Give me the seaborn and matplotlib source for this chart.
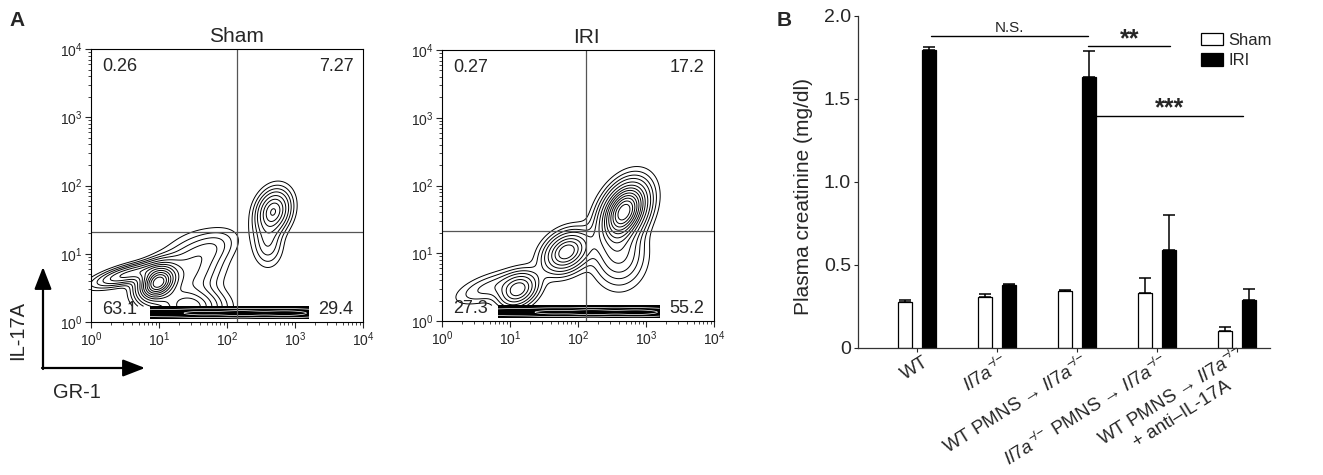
import numpy as np
import pandas as pd
import matplotlib
matplotlib.use("Agg")
import matplotlib.pyplot as plt
import matplotlib.transforms as mtransforms
import seaborn as sns
from matplotlib.patches import FancyArrowPatch

sns.set_theme(style="ticks")
plt.rcParams["font.family"] = ["Liberation Sans", "DejaVu Sans"]
plt.rcParams["mathtext.fontset"] = "custom"
plt.rcParams["mathtext.rm"] = "Liberation Sans"
plt.rcParams["mathtext.it"] = "Liberation Sans:italic"
plt.rcParams["mathtext.bf"] = "Liberation Sans:bold"

#  PANEL A DATA (flow cytometry, log10 coordinates of the density peaks)
sham_quad = ["0.26", "7.27", "63.1", "29.4"]   # UL, UR, LL, LR
iri_quad  = ["0.27", "17.2", "27.3", "55.2"]
sham_gate = (138, 21)
iri_gate  = (131, 21.5)

sham_cx  = [0.98, 0.55, 1.45, 1.80, 2.68, 2.60, 1.45]
sham_cy  = [0.58, 0.70, 0.75, 1.10, 1.62, 1.15, 0.22]
sham_sx  = [0.17, 0.30, 0.28, 0.22, 0.15, 0.13, 0.28]
sham_sy  = [0.16, 0.11, 0.28, 0.16, 0.19, 0.20, 0.16]
sham_rho = [0.30, 0.70, 0.30, 0.40, 0.20, 0.00, 0.00]
sham_w   = [1.00, 0.35, 0.25, 0.10, 0.50, 0.15, 0.45]
sham_band = (0.86, 3.21)

iri_cx  = [1.12, 1.83, 2.68, 2.60, 0.70]
iri_cy  = [0.46, 1.02, 1.62, 1.00, 0.50]
iri_sx  = [0.17, 0.20, 0.20, 0.22, 0.30]
iri_sy  = [0.15, 0.18, 0.25, 0.28, 0.15]
iri_rho = [0.30, 0.30, 0.35, 0.00, 0.60]
iri_w   = [0.45, 0.55, 1.00, 0.25, 0.12]
iri_band = (0.82, 3.20)

band_px = [1.0, 1.6, 2.2, 2.8, 3.1]
band_pw = [0.3, 0.6, 0.8, 0.6, 0.3]

contour_levels = [0.03, 0.06, 0.1, 0.15, 0.22, 0.3, 0.38, 0.46,
                  0.55, 0.64, 0.73, 0.82, 0.91]

#  PANEL B DATA (plasma creatinine)
groups = ["WT", "Il7a", "WT PMNS>Il7a", "Il7a PMNS>Il7a", "WT PMNS>Il7a+anti"]
conditions = ["Sham", "IRI"]
sham_mean = [0.28, 0.31, 0.345, 0.33, 0.10]
sham_err  = [0.01, 0.018, 0.006, 0.092, 0.028]
iri_mean  = [1.795, 0.38, 1.635, 0.588, 0.29]
iri_err   = [0.02, 0.008, 0.156, 0.214, 0.064]

ko = r"$\mathit{Il7a}^{-\!/\!-}$"
tick_labels = ["WT", ko, "WT PMNS \u2192 " + ko, ko + " PMNS \u2192 " + ko,
               "WT PMNS \u2192 " + ko + "\n+ anti\u2013IL-17A"]

sig_x0   = [0.17, 2.14, 2.24]
sig_x1   = [2.13, 3.16, 4.07]
sig_y    = [1.88, 1.82, 1.40]
sig_text = ["N.S.", "**", "***"]


def mixture(X, Y, cx, cy, sx, sy, rho, w):
    Z = np.zeros_like(X)
    for a, b, s, t, r, k in zip(cx, cy, sx, sy, rho, w):
        dx = (X - a) / s
        dy = (Y - b) / t
        Z += k * np.exp(-(dx**2 - 2 * r * dx * dy + dy**2) / (2 * (1 - r**2)))
    return Z / Z.max()


def flow_panel(ax, title, quad, gate, cx, cy, sx, sy, rho, w, band):
    gx = np.linspace(0, 4, 401)
    gy = np.linspace(0.23, 4, 378)
    X, Y = np.meshgrid(gx, gy)
    Z = mixture(X, Y, cx, cy, sx, sy, rho, w)
    ax.contour(10**X, 10**Y, Z, levels=contour_levels, colors="black",
               linewidths=0.7)

    # events piled on the lower edge
    bx = np.linspace(band[0], band[1], 300)
    by = np.linspace(0.04, 0.23, 60)
    BX, BY = np.meshgrid(bx, by)
    hx = np.ones_like(BX)
    for p, k in zip(band_px, band_pw):
        hx += k * np.exp(-((BX - p) / 0.25)**2 / 2)
    ZB = np.exp(-((BY - 0.13) / 0.055)**2 / 2) * hx
    ZB = ZB / ZB.max()
    ax.contourf(10**BX, 10**BY, ZB, levels=[0.0, 1.01], colors="black")
    ax.contour(10**BX, 10**BY, ZB, levels=[0.45, 0.8], colors="white",
               linewidths=0.5)

    ax.axvline(gate[0], color="#555555", lw=0.9)
    ax.axhline(gate[1], color="#555555", lw=0.9)

    ax.set_xscale("log")
    ax.set_yscale("log")
    ax.set_xlim(1, 1e4)
    ax.set_ylim(1, 1e4)
    for s in ax.spines.values():
        s.set_visible(True)
        s.set_linewidth(0.8)
        s.set_color("black")
    ax.tick_params(which="major", length=4, width=0.8, labelsize=10,
                   direction="out", pad=2)
    ax.tick_params(which="minor", length=2, width=0.6, direction="out")

    ax.text(0.04, 0.935, quad[0], transform=ax.transAxes, ha="left",
            va="center", fontsize=13)
    ax.text(0.965, 0.935, quad[1], transform=ax.transAxes, ha="right",
            va="center", fontsize=13)
    ax.text(0.04, 0.045, quad[2], transform=ax.transAxes, ha="left",
            va="center", fontsize=13)
    ax.text(0.965, 0.045, quad[3], transform=ax.transAxes, ha="right",
            va="center", fontsize=13)
    ax.text(gate[0], 1.01, title, transform=ax.get_xaxis_transform(),
            ha="center", va="bottom", fontsize=15)


fig = plt.figure(figsize=(13.23, 4.75), dpi=100)

ax1 = fig.add_axes([0.0688, 0.3221, 0.2056, 0.5747])
flow_panel(ax1, "Sham", sham_quad, sham_gate, sham_cx, sham_cy, sham_sx,
           sham_sy, sham_rho, sham_w, sham_band)
ax2 = fig.add_axes([0.3341, 0.3242, 0.2056, 0.5705])
flow_panel(ax2, "IRI", iri_quad, iri_gate, iri_cx, iri_cy, iri_sx,
           iri_sy, iri_rho, iri_w, iri_band)

# axis arrows
W, H = 1323, 475
arrow_kw = dict(arrowstyle="-|>,head_length=0.9,head_width=0.35",
                mutation_scale=15, color="black", lw=1.6,
                shrinkA=0, shrinkB=0, transform=fig.transFigure)
fig.add_artist(FancyArrowPatch((43 / W, 106 / H), (43 / W, 208 / H), **arrow_kw))
fig.add_artist(FancyArrowPatch((42 / W, 107 / H), (145 / W, 107 / H), **arrow_kw))
fig.text(18 / W, 145 / H, "IL-17A", rotation=90, ha="center", va="center",
         fontsize=14.5)
fig.text(77 / W, 82 / H, "GR-1", ha="center", va="center", fontsize=14.5)

fig.text(9 / W, 1 - 20 / H, "A", fontsize=15, fontweight="bold",
         ha="left", va="center")
fig.text(777 / W, 1 - 21 / H, "B", fontsize=15, fontweight="bold",
         ha="left", va="center")

#  PANEL B
df = pd.DataFrame({
    "group": groups * 2,
    "condition": ["Sham"] * len(groups) + ["IRI"] * len(groups),
    "value": sham_mean + iri_mean,
})
errs = {"Sham": sham_err, "IRI": iri_err}

ax3 = fig.add_axes([0.6485, 0.2674, 0.3114, 0.699])
sns.barplot(data=df, x="group", y="value", hue="condition", order=groups,
            hue_order=conditions, palette={"Sham": "white", "IRI": "black"},
            edgecolor="black", linewidth=0.9, errorbar=None, width=0.6,
            gap=0.4, ax=ax3)

for cont, cond in zip(ax3.containers, conditions):
    for bar, e in zip(cont, errs[cond]):
        xc = bar.get_x() + bar.get_width() / 2
        ax3.errorbar(xc, bar.get_height(), yerr=[[0], [e]], fmt="none",
                     ecolor="black", elinewidth=1.1, capsize=4.5,
                     capthick=1.1)

for x0, x1, y, t in zip(sig_x0, sig_x1, sig_y, sig_text):
    ax3.plot([x0, x1], [y, y], color="black", lw=1.0)
    if t == "N.S.":
        ax3.text((x0 + x1) / 2, y + 0.025, t, ha="center", va="baseline",
                 fontsize=11)
    else:
        ax3.text((x0 + x1) / 2, y + 0.0, t, ha="center", va="baseline",
                 fontsize=18, fontweight="bold")

ax3.set_xlim(-0.74, 4.41)
ax3.set_ylim(0, 2.0)
ax3.set_yticks([0, 0.5, 1.0, 1.5, 2.0], labels=["0", "0.5", "1.0", "1.5", "2.0"])
ax3.set_xticks(range(len(groups)), labels=tick_labels, rotation=32,
               ha="right", va="center", rotation_mode="anchor",
               multialignment="center")
ax3.tick_params(axis="y", labelsize=14, length=3, width=0.8, pad=2)
ax3.tick_params(axis="x", labelsize=13.5, length=3, width=0.8, pad=5)
shift = mtransforms.ScaledTranslation(7 / 72, -1 / 72, fig.dpi_scale_trans)
for lab in ax3.get_xticklabels():
    lab.set_transform(lab.get_transform() + shift)
ax3.set_xlabel("")
ax3.set_ylabel("Plasma creatinine (mg/dl)", fontsize=15)
ax3.yaxis.set_label_coords(-0.108, 0.455)
sns.despine(ax=ax3)
for s in ax3.spines.values():
    s.set_linewidth(0.9)
    s.set_color("#333333")

ax3.legend(loc="upper right", bbox_to_anchor=(1.025, 0.975), frameon=False,
           fontsize=12, handlelength=1.3, handleheight=0.8,
           handletextpad=0.35, labelspacing=0.3, borderpad=0)

fig.savefig("out.png", dpi=100)
